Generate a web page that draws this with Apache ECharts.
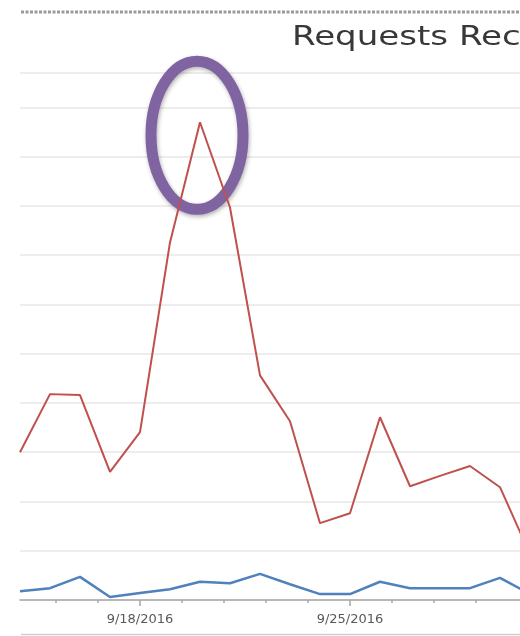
<!DOCTYPE html>
<html><head><meta charset="utf-8">
<script src="https://cdn.jsdelivr.net/npm/echarts@6/dist/echarts.min.js"></script>
<style>html,body{margin:0;padding:0;background:#fff}#c{width:520px;height:636px}</style>
</head><body><div id="c"></div>
<script>
// ---- data ----
const dates = ['9/14/2016','9/15/2016','9/16/2016','9/17/2016','9/18/2016','9/19/2016','9/20/2016','9/21/2016','9/22/2016',
               '9/23/2016','9/24/2016','9/25/2016','9/26/2016','9/27/2016','9/28/2016','9/29/2016','9/30/2016','10/1/2016'];
const received = [30.0, 41.8, 41.6, 26.0, 34.1, 72.6, 97.0, 79.7, 45.6, 36.3, 15.6, 17.6, 37.1, 23.1, 25.2, 27.2, 22.9, 9.3];
const other    = [1.8, 2.4, 4.7, 0.6, 1.4, 2.2, 3.7, 3.4, 5.3, 3.2, 1.2, 1.2, 3.7, 2.4, 2.4, 2.4, 4.5, 1.2];
const labelDays = [4, 11];
const tickLabels = ['9/18/2016', '9/25/2016'];
const minorStep = 1.4;
const titleText = 'Requests Received';
const peakIndex = 6;

const xMax = 50 / 3;
const minorTicks = [];
for (let v = labelDays[0] - 2 * minorStep; v < xMax - 0.2; v += minorStep) minorTicks.push(+v.toFixed(2));

const chart = echarts.init(document.getElementById('c'), null, {renderer: 'canvas'});
const gridPos = {left: 20, right: 0, top: 73, bottom: 36};
chart.setOption({
  animation: false,
  backgroundColor: '#ffffff',
  grid: [Object.assign({}, gridPos), Object.assign({}, gridPos)],
  xAxis: [{
    type: 'value', gridIndex: 0, min: 0, max: xMax,
    axisLine: {show: true, lineStyle: {color: '#a6a6a6', width: 1.5}},
    axisTick: {show: true, customValues: minorTicks, length: 3, lineStyle: {color: '#a6a6a6', width: 1.5}},
    axisLabel: {show: false},
    splitLine: {show: false}
  }, {
    type: 'value', gridIndex: 1, min: 0, max: xMax,
    axisLine: {show: false},
    axisTick: {show: true, customValues: labelDays, length: 6, lineStyle: {color: '#a6a6a6', width: 1.5}},
    axisLabel: {show: true, customValues: labelDays, margin: 13,
      fontFamily: 'DejaVu Sans', fontSize: 13, color: '#595959',
      formatter: v => tickLabels[labelDays.indexOf(Math.round(v))] || ''},
    splitLine: {show: false}
  }],
  yAxis: [{
    type: 'value', gridIndex: 0, min: 0, max: 107, interval: 10,
    axisLine: {show: false}, axisTick: {show: false}, axisLabel: {show: false},
    splitLine: {show: true, lineStyle: {color: '#ededed', width: 2}}
  }, {
    type: 'value', gridIndex: 1, min: 0, max: 1, show: false
  }],
  series: [{
    name: 'Requests Received', type: 'line', xAxisIndex: 0, yAxisIndex: 0,
    data: received.map((v, i) => [i, v]), showSymbol: false, symbol: 'none', clip: true,
    lineStyle: {color: '#c0504d', width: 2}
  }, {
    name: 'Other', type: 'line', xAxisIndex: 0, yAxisIndex: 0,
    data: other.map((v, i) => [i, v]), showSymbol: false, symbol: 'none', clip: true,
    lineStyle: {color: '#4f81bd', width: 2.5}
  }]
});

const peak = chart.convertToPixel({xAxisIndex: 0, yAxisIndex: 0}, [peakIndex, received[peakIndex]]);
chart.setOption({
  graphic: [
    {type: 'line', shape: {x1: 21, y1: 12, x2: 520, y2: 12},
     style: {stroke: '#9a9a9a', lineWidth: 3, lineDash: [3, 1.5]}},
    {type: 'line', shape: {x1: 21, y1: 634.5, x2: 520, y2: 634.5},
     style: {stroke: '#cfcfcf', lineWidth: 1.5}},
    {type: 'text', x: 292, y: 38, scaleX: 1.31, scaleY: 1,
     style: {text: titleText, fontFamily: 'DejaVu Sans', fontSize: 26, fill: '#383838', verticalAlign: 'middle', align: 'left'}},
    {type: 'ellipse', shape: {cx: peak[0] - 3, cy: peak[1] + 13, rx: 46, ry: 74},
     style: {fill: 'none', stroke: '#8064a2', lineWidth: 11, shadowBlur: 4, shadowColor: 'rgba(0,0,0,0.3)', shadowOffsetX: 1, shadowOffsetY: 2}}
  ]
});
</script></body></html>
